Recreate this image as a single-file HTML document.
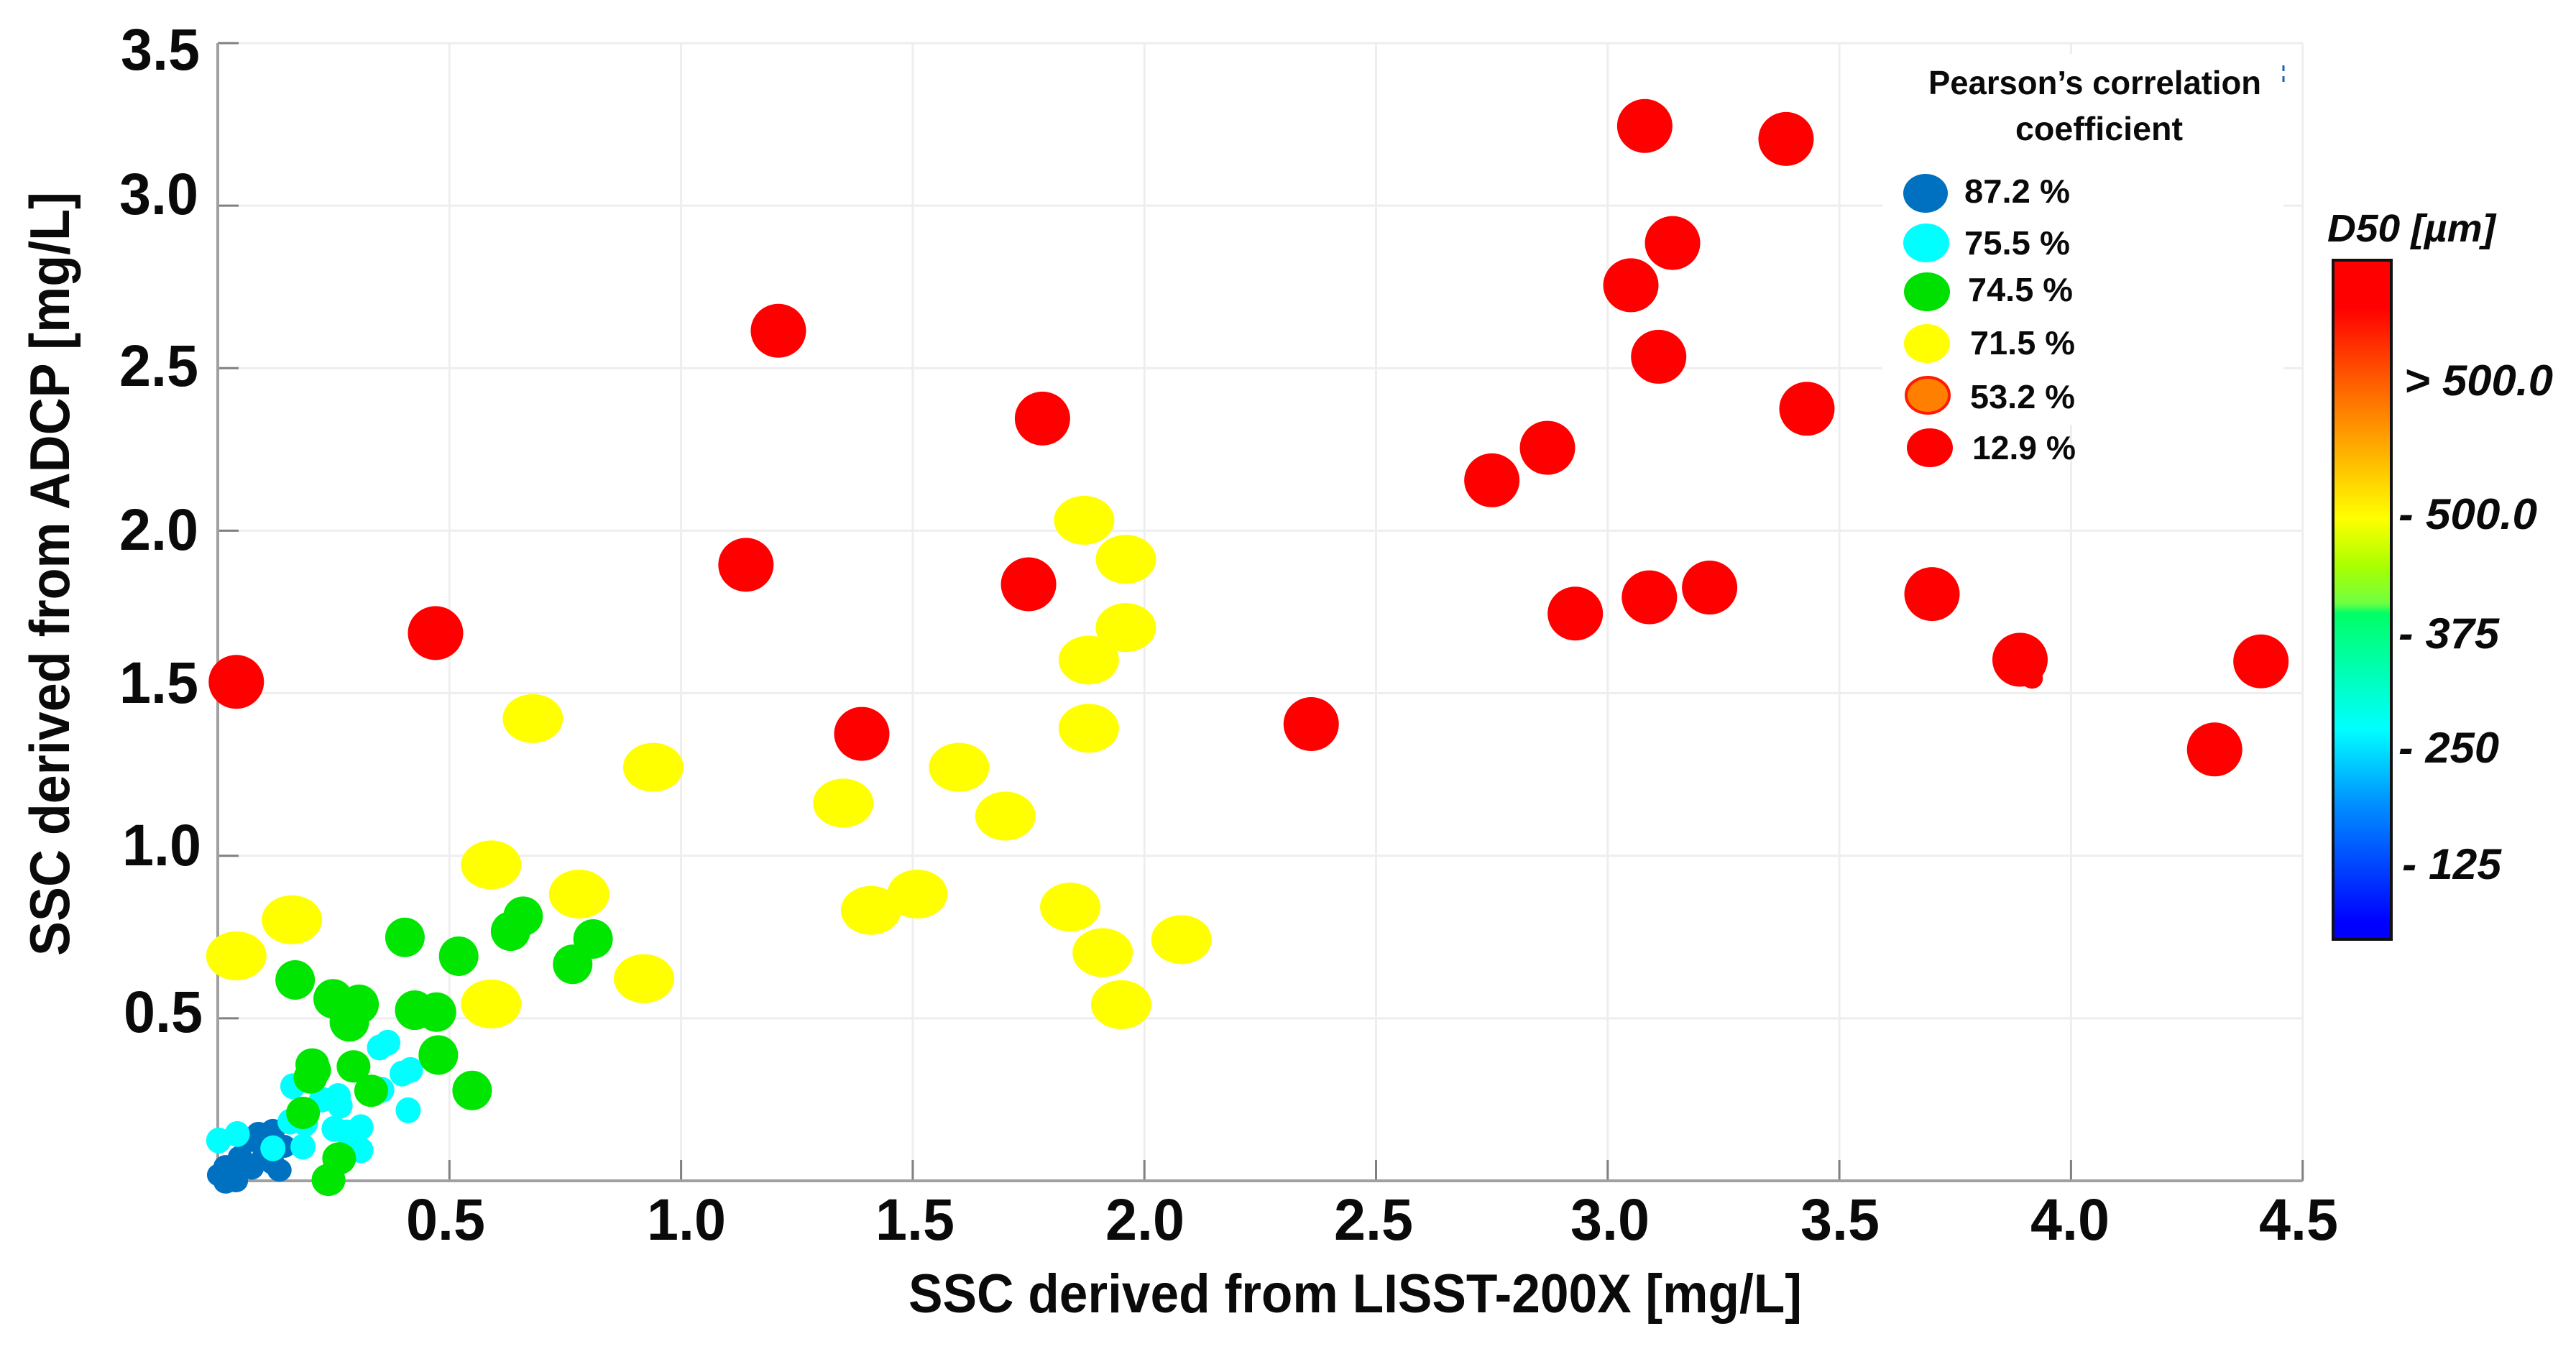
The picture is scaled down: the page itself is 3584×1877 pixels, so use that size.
<!DOCTYPE html>
<html lang="en">
<head>
<meta charset="utf-8">
<title>SSC scatter chart</title>
<style>
html,body{margin:0;padding:0;background:#fff;width:3584px;height:1877px;overflow:hidden}
svg{display:block}
text{font-family:"Liberation Sans",sans-serif;font-weight:bold;fill:#0a0a0a}
</style>
</head>
<body>
<svg id="chart" xmlns="http://www.w3.org/2000/svg" width="3584" height="1877" viewBox="0 0 3584 1877">
  <defs>
    <linearGradient id="jet" x1="0" y1="0" x2="0" y2="1">
      <stop offset="0" stop-color="#ff0000"/>
      <stop offset="0.07" stop-color="#ff0000"/>
      <stop offset="0.19" stop-color="#ff6600"/>
      <stop offset="0.38" stop-color="#ffff00"/>
      <stop offset="0.45" stop-color="#aaff00"/>
      <stop offset="0.505" stop-color="#70ff40"/>
      <stop offset="0.52" stop-color="#00ff66"/>
      <stop offset="0.62" stop-color="#00ffc0"/>
      <stop offset="0.69" stop-color="#00ffff"/>
      <stop offset="0.80" stop-color="#0090ff"/>
      <stop offset="0.975" stop-color="#0000ff"/>
      <stop offset="1" stop-color="#0000ff"/>
    </linearGradient>
  </defs>
  <g id="grid"></g>
  <rect x="2619" y="75" width="558" height="516" fill="#fff"/>
  <g id="axes"></g>
  <g id="marks"></g>

  <g font-size="82">
    <text x="168" y="97" textLength="110" lengthAdjust="spacingAndGlyphs">3.5</text>
    <text x="166" y="298" textLength="110" lengthAdjust="spacingAndGlyphs">3.0</text>
    <text x="166" y="537" textLength="110" lengthAdjust="spacingAndGlyphs">2.5</text>
    <text x="166" y="765" textLength="110" lengthAdjust="spacingAndGlyphs">2.0</text>
    <text x="166" y="978" textLength="110" lengthAdjust="spacingAndGlyphs">1.5</text>
    <text x="170" y="1204" textLength="110" lengthAdjust="spacingAndGlyphs">1.0</text>
    <text x="172" y="1436" textLength="110" lengthAdjust="spacingAndGlyphs">0.5</text>
  </g>
  <g font-size="82">
    <text x="565" y="1725" textLength="110" lengthAdjust="spacingAndGlyphs">0.5</text>
    <text x="900" y="1725" textLength="110" lengthAdjust="spacingAndGlyphs">1.0</text>
    <text x="1218" y="1725" textLength="110" lengthAdjust="spacingAndGlyphs">1.5</text>
    <text x="1538" y="1725" textLength="110" lengthAdjust="spacingAndGlyphs">2.0</text>
    <text x="1856" y="1725" textLength="110" lengthAdjust="spacingAndGlyphs">2.5</text>
    <text x="2185" y="1725" textLength="110" lengthAdjust="spacingAndGlyphs">3.0</text>
    <text x="2505" y="1725" textLength="110" lengthAdjust="spacingAndGlyphs">3.5</text>
    <text x="2825" y="1725" textLength="110" lengthAdjust="spacingAndGlyphs">4.0</text>
    <text x="3143" y="1725" textLength="110" lengthAdjust="spacingAndGlyphs">4.5</text>
  </g>

  <text x="1264" y="1826" font-size="76" textLength="1243" lengthAdjust="spacingAndGlyphs">SSC derived from LISST-200X [mg/L]</text>
  <text transform="translate(96 1330) rotate(-90)" font-size="78" textLength="1063" lengthAdjust="spacingAndGlyphs">SSC derived from ADCP [mg/L]</text>

  <g>
    <text x="2683" y="131" font-size="46" textLength="463" lengthAdjust="spacingAndGlyphs">Pearson’s correlation</text>
    <text x="2804" y="195" font-size="46" textLength="233" lengthAdjust="spacingAndGlyphs">coefficient</text>
    <ellipse cx="2679" cy="269" rx="31" ry="27" fill="#0070c0"/>
    <text x="2733" y="282" font-size="46" textLength="147" lengthAdjust="spacingAndGlyphs">87.2 %</text>
    <ellipse cx="2680" cy="338" rx="32" ry="27" fill="#00ffff"/>
    <text x="2733" y="354" font-size="46" textLength="147" lengthAdjust="spacingAndGlyphs">75.5 %</text>
    <ellipse cx="2681" cy="406" rx="32" ry="27" fill="#00e000"/>
    <text x="2738" y="419" font-size="46" textLength="146" lengthAdjust="spacingAndGlyphs">74.5 %</text>
    <ellipse cx="2681" cy="478" rx="32" ry="27" fill="#ffff00"/>
    <text x="2741" y="493" font-size="46" textLength="146" lengthAdjust="spacingAndGlyphs">71.5 %</text>
    <ellipse cx="2682" cy="550" rx="30" ry="25" fill="#ff8000" stroke="#ff1a00" stroke-width="4"/>
    <text x="2741" y="568" font-size="46" textLength="146" lengthAdjust="spacingAndGlyphs">53.2 %</text>
    <ellipse cx="2685" cy="623" rx="32" ry="27" fill="#ff0000"/>
    <text x="2744" y="639" font-size="46" textLength="144" lengthAdjust="spacingAndGlyphs">12.9 %</text>
    <line x1="3177" y1="91" x2="3177" y2="114" stroke="#2060b0" stroke-width="3" stroke-dasharray="8 7"/>
  </g>

  <g>
    <text x="3238" y="336" font-size="54" font-style="italic" textLength="234" lengthAdjust="spacingAndGlyphs">D50 [µm]</text>
    <rect x="3246" y="362" width="81" height="945" fill="url(#jet)" stroke="#111" stroke-width="4"/>
    <text x="3345" y="550" font-size="60" font-style="italic" textLength="207" lengthAdjust="spacingAndGlyphs">&gt; 500.0</text>
    <text x="3337" y="736" font-size="60" font-style="italic" textLength="193" lengthAdjust="spacingAndGlyphs">- 500.0</text>
    <text x="3337" y="902" font-size="60" font-style="italic" textLength="140" lengthAdjust="spacingAndGlyphs">- 375</text>
    <text x="3337" y="1061" font-size="60" font-style="italic" textLength="140" lengthAdjust="spacingAndGlyphs">- 250</text>
    <text x="3342" y="1223" font-size="60" font-style="italic" textLength="138" lengthAdjust="spacingAndGlyphs">- 125</text>
  </g>
</svg>
<script>
// Data (SSC from LISST-200X on x, SSC from ADCP on y, mg/L)
const xTicks = [0.5, 1.0, 1.5, 2.0, 2.5, 3.0, 3.5, 4.0, 4.5];
const yTicks = [0.5, 1.0, 1.5, 2.0, 2.5, 3.0, 3.5];

const blueX = [0.088, 0.119, 0.143, 0.133, 0.098, 0.048, 0.017, 0.003, 0.039, 0.017, 0.065, 0.045, 0.071, 0.098, 0.073, 0.118];
const blueY = [0.146, 0.155, 0.106, 0.033, 0.069, 0.073, 0.044, 0.018, 0.000, -0.004, 0.044, 0.036, 0.124, 0.117, 0.039, 0.055];

const cyanX = [0.349, 0.367, 0.398, 0.416, 0.162, 0.354, 0.224, 0.260, 0.264, 0.411, 0.156, 0.189, 0.184, 0.251, 0.278, 0.309, 0.309, 0.002, 0.042, 0.119];
const cyanY = [0.410, 0.425, 0.330, 0.341, 0.291, 0.280, 0.250, 0.261, 0.231, 0.217, 0.182, 0.176, 0.105, 0.160, 0.149, 0.165, 0.094, 0.124, 0.144, 0.100];

const greenX = [0.404, 0.520, 0.632, 0.659, 0.766, 0.810, 0.167, 0.249, 0.305, 0.284, 0.425, 0.472, 0.476, 0.549];
const greenY = [0.749, 0.691, 0.768, 0.814, 0.666, 0.744, 0.618, 0.560, 0.543, 0.489, 0.525, 0.519, 0.387, 0.278];

const smallGreenX = [0.204, 0.208, 0.200, 0.293, 0.331, 0.184, 0.262, 0.239];
const smallGreenY = [0.358, 0.340, 0.318, 0.352, 0.277, 0.209, 0.069, 0.003];

const yellowX = [0.04, 0.16, 0.68, 0.94, 0.59, 0.59, 0.78, 0.92, 1.35, 1.41, 1.51, 1.60, 1.70, 1.84, 1.91, 1.95, 2.08, 1.87, 1.96, 1.96, 1.88, 1.88];
const yellowY = [0.692, 0.803, 1.422, 1.272, 0.972, 0.544, 0.882, 0.622, 1.162, 0.832, 0.882, 1.272, 1.122, 0.842, 0.702, 0.542, 0.742, 2.032, 1.912, 1.702, 1.602, 1.392];

const redX = [0.04, 0.47, 1.21, 1.14, 1.39, 1.78, 1.75, 2.36, 2.75, 2.87, 2.93, 3.09, 3.22, 3.08, 3.385, 3.14, 3.05, 3.11, 3.43, 3.70, 3.89, 4.41, 4.31];
const redY = [1.535, 1.685, 2.615, 1.895, 1.375, 2.345, 1.835, 1.405, 2.155, 2.255, 1.745, 1.795, 1.825, 3.245, 3.205, 2.885, 2.755, 2.535, 2.375, 1.805, 1.603, 1.598, 1.327];

const smallRedX = [3.916];
const smallRedY = [1.545];

const NS = 'http://www.w3.org/2000/svg';
const X0 = 303, XU = 644.6, Y0 = 1643, YU = 452.3;
function xScale(v) { return X0 + XU * v; }
function yScale(v) { return Y0 - YU * v; }

const gridG = document.getElementById('grid');
const axesG = document.getElementById('axes');
const marksG = document.getElementById('marks');

function makeLine(parent, x1, y1, x2, y2, color, width) {
  const l = document.createElementNS(NS, 'line');
  l.setAttribute('x1', x1);
  l.setAttribute('y1', y1);
  l.setAttribute('x2', x2);
  l.setAttribute('y2', y2);
  l.setAttribute('stroke', color);
  l.setAttribute('stroke-width', width);
  parent.appendChild(l);
  return l;
}

const xMax = xTicks[xTicks.length - 1];
const yMax = yTicks[yTicks.length - 1];

xTicks.forEach(function (t) {
  const g = makeLine(gridG, xScale(t), yScale(yMax), xScale(t), yScale(0), '#eeeeee', 3);
  
  
  const k = makeLine(axesG, xScale(t), yScale(0), xScale(t), yScale(0) - 29, '#808080', 3);
  
  
});
yTicks.forEach(function (t) {
  const g = makeLine(gridG, xScale(0), yScale(t), xScale(xMax), yScale(t), '#eeeeee', 3);
  
  
  const k = makeLine(axesG, xScale(0), yScale(t), xScale(0) + 29, yScale(t), '#808080', 3);
  
  
});

const xAxis = makeLine(axesG, xScale(0), yScale(0), xScale(xMax), yScale(0), '#a0a0a0', 4);


const yAxis = makeLine(axesG, xScale(0), yScale(yMax), xScale(0), yScale(0), '#a0a0a0', 4);



function drawSeries(xs, ys, color, rx, ry, name) {
  xs.forEach(function (v, i) {
    const e = document.createElementNS(NS, 'ellipse');
    e.setAttribute('cx', xScale(v));
    e.setAttribute('cy', yScale(ys[i]));
    e.setAttribute('rx', rx);
    e.setAttribute('ry', ry);
    e.setAttribute('fill', color);
    
    
    marksG.appendChild(e);
  });
}

drawSeries(blueX, blueY, '#0070c0', 17, 16, 'point-87-2');
drawSeries(cyanX, cyanY, '#00ffff', 17.5, 18, 'point-75-5');
drawSeries(greenX, greenY, '#00e600', 27.5, 27.5, 'point-74-5');
drawSeries(smallGreenX, smallGreenY, '#00e600', 23.5, 22.5, 'point-74-5-small');
drawSeries(yellowX, yellowY, '#ffff00', 42, 34, 'point-71-5');
drawSeries(redX, redY, '#ff0000', 38.5, 37.5, 'point-12-9');
drawSeries(smallRedX, smallRedY, '#ff0000', 15, 14, 'point-12-9-small');
</script>
</body>
</html>
